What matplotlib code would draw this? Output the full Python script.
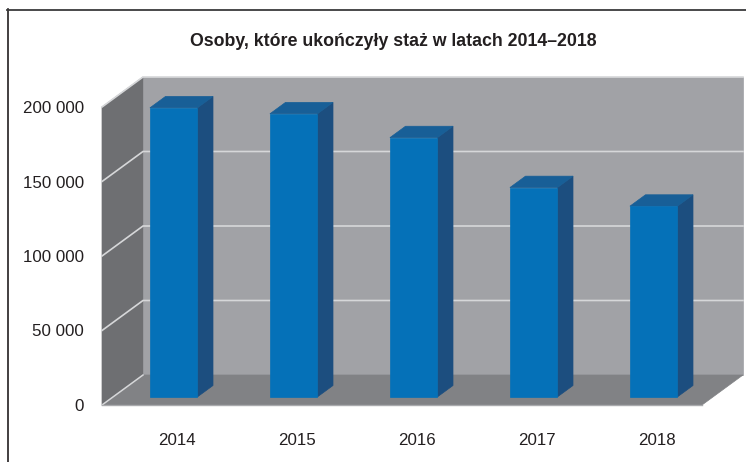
import matplotlib
matplotlib.use('Agg')
import matplotlib.pyplot as plt
from matplotlib.lines import Line2D
from matplotlib.patches import Polygon

years = ['2014', '2015', '2016', '2017', '2018']
values = [194000, 190000, 174000, 140500, 128000]
yticks = [0, 50000, 100000, 150000, 200000]
ytick_labels = ['0', '50 000', '100 000', '150 000', '200 000']
title = 'Osoby, które ukończyły staż w latach 2014–2018'

W, H = 746, 462
plt.rcParams['font.family'] = ['Liberation Sans', 'DejaVu Sans']

fig = plt.figure(figsize=(W/100, H/100), dpi=100, facecolor='white')
# axes = the front plane of the 3d box
ax = fig.add_axes([102/W, 1-405/H, 600/W, 298/H])
ax.set_xlim(-0.5, 4.5)
ax.set_ylim(0, 200000)
ax.patch.set_visible(False)
for s in ax.spines.values():
    s.set_visible(False)

# depth of the box in data units
DX = 41/120
DY = 30/298*200000
bar_w = 47.5/120
bar_pos = 0.27 # where the bar stands in the box
bar_d = 0.38   # bar depth, share of box depth
bar_shift = 0.6/120


def poly(pts, color, z):
    ax.add_patch(Polygon(pts, closed=True, fc=color, ec=color, lw=0.5, zorder=z, clip_on=False))


x0, x1 = -0.5, 4.5
y1 = 200000
poly([(x0+DX, 0+DY), (x1+DX, DY), (x1+DX, y1+DY), (x0+DX, y1+DY)], '#a1a2a6', 1)
poly([(x0, 0), (x0+DX, DY), (x0+DX, y1+DY), (x0, y1)], '#6e6f72', 1)
poly([(x0, 0), (x1, 0), (x1+DX, DY), (x0+DX, DY)], '#818285', 1)

grid_c = '#d6d7d9'
for t in yticks[1:]:
    ax.plot([x0, x0+DX, x1+DX], [t, t+DY, t+DY], color=grid_c, lw=1.2, zorder=2, clip_on=False,
            solid_joinstyle='miter')
ax.plot([x0, x0+DX], [0, DY], color=grid_c, lw=1.1, zorder=2, clip_on=False)
ax.plot([x0, x1], [0, 0], color='#a9aaad', lw=1.0, zorder=2, clip_on=False)

for i, v in enumerate(years):
    val = values[i]
    l = i - bar_w/2 + bar_pos*DX + bar_shift
    r = l + bar_w
    b = bar_pos*DY
    t = b + val
    ddx, ddy = bar_d*DX, bar_d*DY
    poly([(l, b), (r, b), (r, t), (l, t)], '#0571b8', 4)
    poly([(r, b), (r+ddx, b+ddy), (r+ddx, t+ddy), (r, t)], '#1c4e7f', 3)
    poly([(l, t), (r, t), (r+ddx, t+ddy), (l+ddx, t+ddy)], '#185f97', 3)

ax.set_yticks(yticks)
ax.set_yticklabels(ytick_labels, fontsize=12.2, color='#231f20')
ax.set_xticks([i + 0.125 for i in range(5)])
ax.set_xticklabels(years, fontsize=12.2, color='#231f20')
ax.tick_params(axis='both', length=0)
ax.tick_params(axis='y', pad=13)
ax.tick_params(axis='x', pad=20.5)

fig.text(393/W, 1-41.5/H, title, ha='center', va='center', fontsize=12.8, fontweight='bold', color='#231f20')

# frame of the page
fig.add_artist(Line2D([7.5/W, 7.5/W], [0, 1-9/H], color='#231f20', lw=1.2))
fig.add_artist(Line2D([7/W, 1], [1-10/H, 1-10/H], color='#3a3a3c', lw=1.3))

fig.savefig('out.png', dpi=100)
